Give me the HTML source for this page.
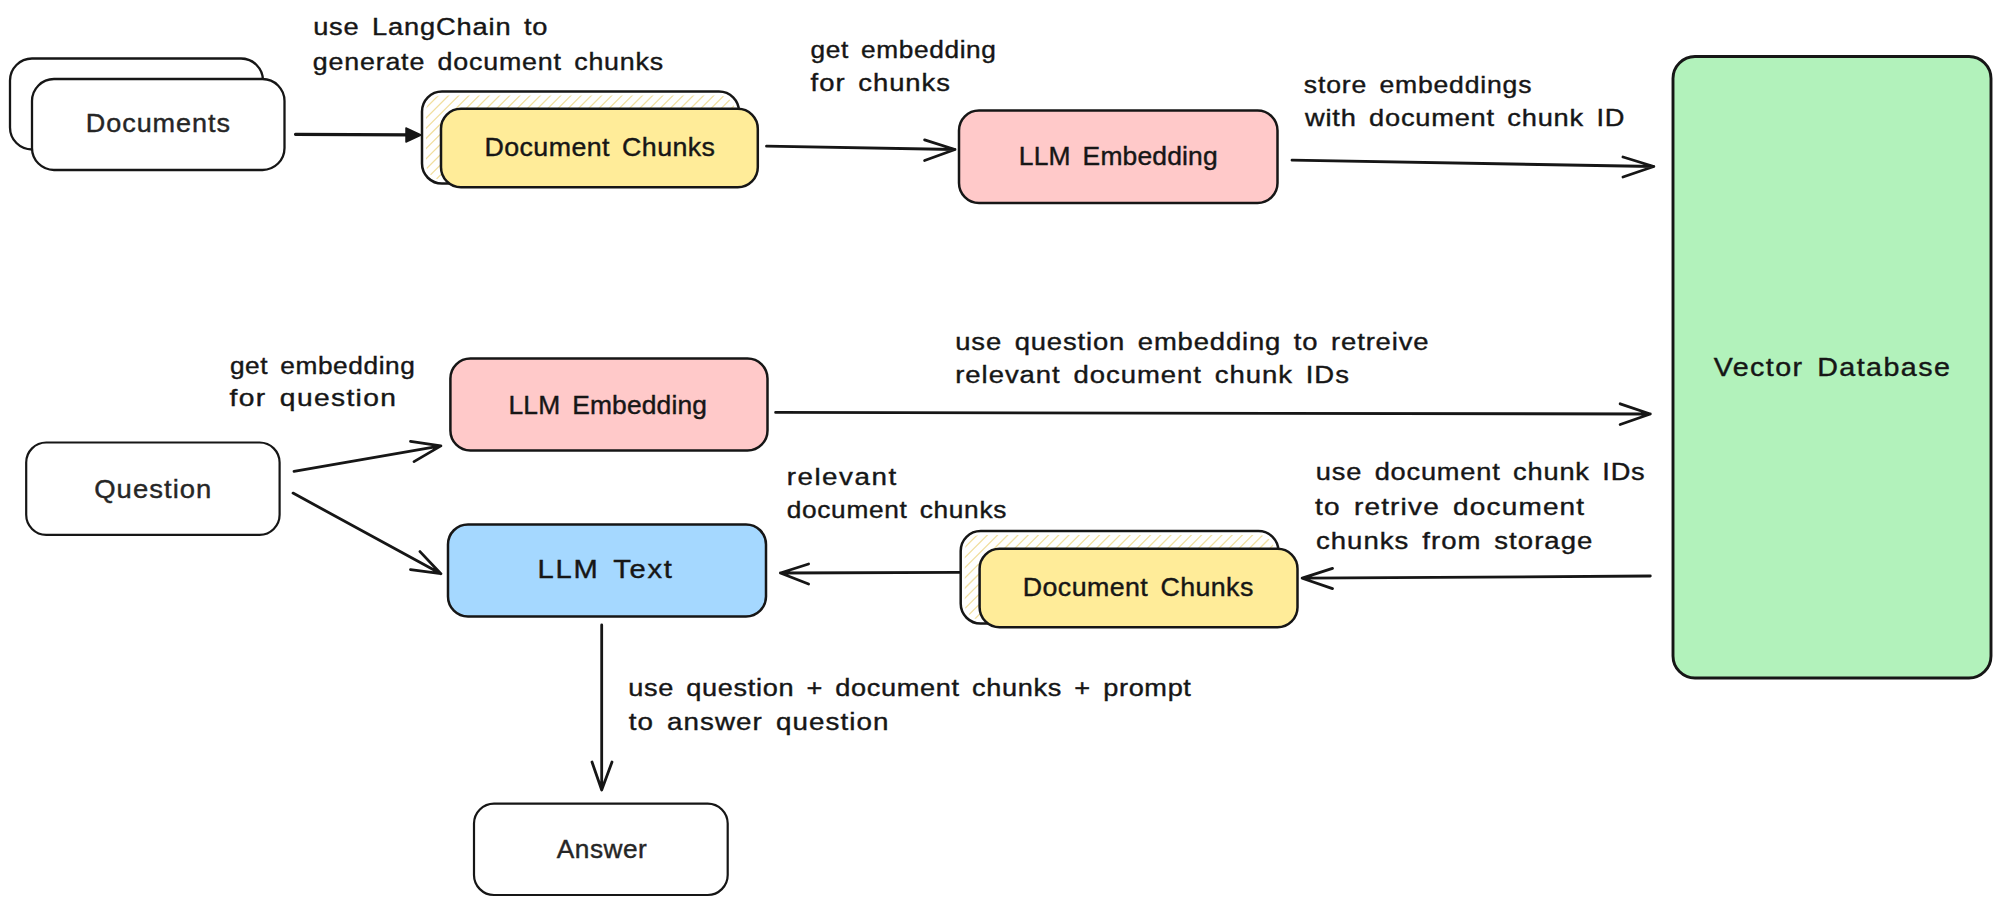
<!DOCTYPE html><html><head><meta charset="utf-8"><style>html,body{margin:0;padding:0;background:#fff;width:2000px;height:905px;overflow:hidden}svg{display:block}text{font-family:"Liberation Sans",sans-serif}</style></head><body>
<svg width="2000" height="905" viewBox="0 0 2000 905">
<rect x="0" y="0" width="2000" height="905" fill="#ffffff"/>
<rect x="10.0" y="58.5" width="253.0" height="91.0" rx="22" ry="22" fill="#ffffff" stroke="#161616" stroke-width="2.3" />
<rect x="32.0" y="79.0" width="252.5" height="91.0" rx="22" ry="22" fill="#ffffff" stroke="#161616" stroke-width="2.3" />
<text transform="translate(85.78 132.00) scale(1.0597 1)" x="0" y="0" font-size="25.5" letter-spacing="0.887" word-spacing="4.10" fill="#262626" stroke="#262626" stroke-width="0.4">Documents</text>
<path d="M295.5 134.3 L410.0 134.8" stroke="#161616" stroke-width="3.2" fill="none" stroke-linecap="round"/>
<path d="M406 128 L421 135 L406 142 Z" fill="#161616" stroke="#161616" stroke-width="1.5" stroke-linejoin="round"/>
<text transform="translate(313.13 35.20) scale(1.1115 1)" x="0" y="0" font-size="24.5" letter-spacing="0.757" word-spacing="3.75" fill="#161616" stroke="#161616" stroke-width="0.4">use LangChain to</text>
<text transform="translate(312.77 70.30) scale(1.0938 1)" x="0" y="0" font-size="24.5" letter-spacing="0.756" word-spacing="3.81" fill="#161616" stroke="#161616" stroke-width="0.4">generate document chunks</text>
<rect x="422.0" y="91.5" width="317.0" height="92.1" rx="20" ry="20" fill="#ffffff" stroke="#161616" stroke-width="2.5" />
<clipPath id="h1"><rect x="426" y="95.5" width="309" height="84.1" rx="16" ry="16"/></clipPath>
<path d="M329.9 183.6 L422.0 91.5 M340.1 183.6 L432.2 91.5 M350.3 183.6 L442.4 91.5 M360.5 183.6 L452.6 91.5 M370.7 183.6 L462.8 91.5 M380.9 183.6 L473.0 91.5 M391.1 183.6 L483.2 91.5 M401.3 183.6 L493.4 91.5 M411.5 183.6 L503.6 91.5 M421.7 183.6 L513.8 91.5 M431.9 183.6 L524.0 91.5 M442.1 183.6 L534.2 91.5 M452.3 183.6 L544.4 91.5 M462.5 183.6 L554.6 91.5 M472.7 183.6 L564.8 91.5 M482.9 183.6 L575.0 91.5 M493.1 183.6 L585.2 91.5 M503.3 183.6 L595.4 91.5 M513.5 183.6 L605.6 91.5 M523.7 183.6 L615.8 91.5 M533.9 183.6 L626.0 91.5 M544.1 183.6 L636.2 91.5 M554.3 183.6 L646.4 91.5 M564.5 183.6 L656.6 91.5 M574.7 183.6 L666.8 91.5 M584.9 183.6 L677.0 91.5 M595.1 183.6 L687.2 91.5 M605.3 183.6 L697.4 91.5 M615.5 183.6 L707.6 91.5 M625.7 183.6 L717.8 91.5 M635.9 183.6 L728.0 91.5 M646.1 183.6 L738.2 91.5 M656.3 183.6 L748.4 91.5 M666.5 183.6 L758.6 91.5 M676.7 183.6 L768.8 91.5 M686.9 183.6 L779.0 91.5 M697.1 183.6 L789.2 91.5 M707.3 183.6 L799.4 91.5 M717.5 183.6 L809.6 91.5 M727.7 183.6 L819.8 91.5 M737.9 183.6 L830.0 91.5" stroke="#f1dfa0" stroke-width="1.3" fill="none" clip-path="url(#h1)"/>
<rect x="441.0" y="108.7" width="316.8" height="78.6" rx="20" ry="20" fill="#ffec99" stroke="#161616" stroke-width="2.5" />
<text transform="translate(484.50 155.90) scale(1.0502 1)" x="0" y="0" font-size="25.5" letter-spacing="0.410" word-spacing="4.13" fill="#161616" stroke="#161616" stroke-width="0.4">Document Chunks</text>
<path d="M766.5 146.2 L955.0 149.5 M924.6 139.9 L955.0 149.5 L924.6 160.5" stroke="#161616" stroke-width="2.8" fill="none" stroke-linecap="round" stroke-linejoin="round"/>
<text transform="translate(810.60 57.50) scale(1.0721 1)" x="0" y="0" font-size="24.5" letter-spacing="0.586" word-spacing="3.89" fill="#161616" stroke="#161616" stroke-width="0.4">get embedding</text>
<text transform="translate(810.61 91.25) scale(1.1190 1)" x="0" y="0" font-size="24.5" letter-spacing="0.868" word-spacing="3.73" fill="#161616" stroke="#161616" stroke-width="0.4">for chunks</text>
<rect x="959.0" y="110.5" width="318.5" height="92.5" rx="20" ry="20" fill="#ffc9c9" stroke="#161616" stroke-width="2.5" />
<text transform="translate(1018.83 164.60) scale(1.0358 1)" x="0" y="0" font-size="25.5" letter-spacing="0.175" word-spacing="4.19" fill="#161616" stroke="#161616" stroke-width="0.4">LLM Embedding</text>
<text transform="translate(1303.86 93.00) scale(1.0844 1)" x="0" y="0" font-size="24.5" letter-spacing="0.756" word-spacing="3.85" fill="#161616" stroke="#161616" stroke-width="0.4">store embeddings</text>
<text transform="translate(1305.04 125.60) scale(1.1114 1)" x="0" y="0" font-size="24.5" letter-spacing="0.702" word-spacing="3.75" fill="#161616" stroke="#161616" stroke-width="0.4">with document chunk ID</text>
<path d="M1292.0 160.2 L1653.8 166.5 M1623.0 157.0 L1653.8 166.5 L1623.0 177.0" stroke="#161616" stroke-width="2.8" fill="none" stroke-linecap="round" stroke-linejoin="round"/>
<rect x="1673.0" y="56.5" width="318.0" height="621.5" rx="22" ry="22" fill="#b2f2bb" stroke="#161616" stroke-width="2.9" />
<text transform="translate(1713.77 376.40) scale(1.1235 1)" x="0" y="0" font-size="25.5" letter-spacing="1.273" word-spacing="3.86" fill="#161616" stroke="#161616" stroke-width="0.4">Vector Database</text>
<text transform="translate(229.90 373.60) scale(1.0712 1)" x="0" y="0" font-size="24.5" letter-spacing="0.565" word-spacing="3.89" fill="#161616" stroke="#161616" stroke-width="0.4">get embedding</text>
<text transform="translate(229.60 405.60) scale(1.1515 1)" x="0" y="0" font-size="24.5" letter-spacing="1.165" word-spacing="3.62" fill="#161616" stroke="#161616" stroke-width="0.4">for question</text>
<rect x="450.4" y="358.6" width="317.1" height="91.8" rx="20" ry="20" fill="#ffc9c9" stroke="#161616" stroke-width="2.5" />
<text transform="translate(508.53 413.50) scale(1.0350 1)" x="0" y="0" font-size="25.5" letter-spacing="0.161" word-spacing="4.19" fill="#161616" stroke="#161616" stroke-width="0.4">LLM Embedding</text>
<path d="M775.6 412.4 L1650.3 414.0 M1620.2 403.8 L1650.3 414.0 L1620.2 424.5" stroke="#161616" stroke-width="2.8" fill="none" stroke-linecap="round" stroke-linejoin="round"/>
<text transform="translate(955.22 350.00) scale(1.1190 1)" x="0" y="0" font-size="24.5" letter-spacing="0.773" word-spacing="3.73" fill="#161616" stroke="#161616" stroke-width="0.4">use question embedding to retreive</text>
<text transform="translate(955.18 382.50) scale(1.1210 1)" x="0" y="0" font-size="24.5" letter-spacing="0.878" word-spacing="3.72" fill="#161616" stroke="#161616" stroke-width="0.4">relevant document chunk IDs</text>
<rect x="26.2" y="442.5" width="253.4" height="92.3" rx="20" ry="20" fill="#ffffff" stroke="#161616" stroke-width="2.2" />
<text transform="translate(94.20 497.60) scale(1.0761 1)" x="0" y="0" font-size="25.5" letter-spacing="0.984" word-spacing="4.03" fill="#262626" stroke="#262626" stroke-width="0.4">Question</text>
<path d="M294.0 471.3 L440.9 445.9 M410.5 441.4 L440.9 445.9 L414.0 461.6" stroke="#161616" stroke-width="2.8" fill="none" stroke-linecap="round" stroke-linejoin="round"/>
<path d="M293.0 493.1 L440.9 573.7 M420.0 551.6 L440.9 573.7 L410.5 569.6" stroke="#161616" stroke-width="2.8" fill="none" stroke-linecap="round" stroke-linejoin="round"/>
<rect x="448.0" y="524.4" width="318.0" height="92.1" rx="20" ry="20" fill="#a5d8ff" stroke="#161616" stroke-width="2.5" />
<text transform="translate(537.41 577.80) scale(1.1423 1)" x="0" y="0" font-size="25.5" letter-spacing="1.575" word-spacing="3.80" fill="#161616" stroke="#161616" stroke-width="0.4">LLM Text</text>
<path d="M959.5 572.4 L780.4 573.0 M808.6 564.0 L780.4 573.0 L808.6 584.0" stroke="#161616" stroke-width="2.8" fill="none" stroke-linecap="round" stroke-linejoin="round"/>
<text transform="translate(786.66 485.40) scale(1.1327 1)" x="0" y="0" font-size="24.5" letter-spacing="1.362" word-spacing="3.68" fill="#161616" stroke="#161616" stroke-width="0.4">relevant</text>
<text transform="translate(786.70 518.40) scale(1.0728 1)" x="0" y="0" font-size="24.5" letter-spacing="0.638" word-spacing="3.89" fill="#161616" stroke="#161616" stroke-width="0.4">document chunks</text>
<rect x="960.7" y="531.1" width="317.7" height="92.5" rx="20" ry="20" fill="#ffffff" stroke="#161616" stroke-width="2.5" />
<clipPath id="h2"><rect x="964.7" y="535.1" width="309.70000000000005" height="84.5" rx="16" ry="16"/></clipPath>
<path d="M868.2 623.6 L960.7 531.1 M878.4 623.6 L970.9 531.1 M888.6 623.6 L981.1 531.1 M898.8 623.6 L991.3 531.1 M909.0 623.6 L1001.5 531.1 M919.2 623.6 L1011.7 531.1 M929.4 623.6 L1021.9 531.1 M939.6 623.6 L1032.1 531.1 M949.8 623.6 L1042.3 531.1 M960.0 623.6 L1052.5 531.1 M970.2 623.6 L1062.7 531.1 M980.4 623.6 L1072.9 531.1 M990.6 623.6 L1083.1 531.1 M1000.8 623.6 L1093.3 531.1 M1011.0 623.6 L1103.5 531.1 M1021.2 623.6 L1113.7 531.1 M1031.4 623.6 L1123.9 531.1 M1041.6 623.6 L1134.1 531.1 M1051.8 623.6 L1144.3 531.1 M1062.0 623.6 L1154.5 531.1 M1072.2 623.6 L1164.7 531.1 M1082.4 623.6 L1174.9 531.1 M1092.6 623.6 L1185.1 531.1 M1102.8 623.6 L1195.3 531.1 M1113.0 623.6 L1205.5 531.1 M1123.2 623.6 L1215.7 531.1 M1133.4 623.6 L1225.9 531.1 M1143.6 623.6 L1236.1 531.1 M1153.8 623.6 L1246.3 531.1 M1164.0 623.6 L1256.5 531.1 M1174.2 623.6 L1266.7 531.1 M1184.4 623.6 L1276.9 531.1 M1194.6 623.6 L1287.1 531.1 M1204.8 623.6 L1297.3 531.1 M1215.0 623.6 L1307.5 531.1 M1225.2 623.6 L1317.7 531.1 M1235.4 623.6 L1327.9 531.1 M1245.6 623.6 L1338.1 531.1 M1255.8 623.6 L1348.3 531.1 M1266.0 623.6 L1358.5 531.1 M1276.2 623.6 L1368.7 531.1" stroke="#f1dfa0" stroke-width="1.3" fill="none" clip-path="url(#h2)"/>
<rect x="979.6" y="548.7" width="317.9" height="78.6" rx="20" ry="20" fill="#ffec99" stroke="#161616" stroke-width="2.5" />
<text transform="translate(1022.80 595.90) scale(1.0502 1)" x="0" y="0" font-size="25.5" letter-spacing="0.410" word-spacing="4.13" fill="#161616" stroke="#161616" stroke-width="0.4">Document Chunks</text>
<text transform="translate(1315.83 479.70) scale(1.1112 1)" x="0" y="0" font-size="24.5" letter-spacing="0.728" word-spacing="3.75" fill="#161616" stroke="#161616" stroke-width="0.4">use document chunk IDs</text>
<text transform="translate(1315.08 515.00) scale(1.1423 1)" x="0" y="0" font-size="24.5" letter-spacing="1.031" word-spacing="3.65" fill="#161616" stroke="#161616" stroke-width="0.4">to retrive document</text>
<text transform="translate(1315.93 549.00) scale(1.1239 1)" x="0" y="0" font-size="24.5" letter-spacing="0.927" word-spacing="3.71" fill="#161616" stroke="#161616" stroke-width="0.4">chunks from storage</text>
<path d="M1650.3 576.0 L1302.2 578.2 M1332.5 568.4 L1302.2 578.2 L1332.5 588.6" stroke="#161616" stroke-width="2.8" fill="none" stroke-linecap="round" stroke-linejoin="round"/>
<path d="M601.7 625.0 L601.7 790.0 M592.0 762.0 L601.7 790.0 L612.0 762.0" stroke="#161616" stroke-width="2.8" fill="none" stroke-linecap="round" stroke-linejoin="round"/>
<text transform="translate(628.24 695.80) scale(1.1081 1)" x="0" y="0" font-size="24.5" letter-spacing="0.590" word-spacing="3.76" fill="#161616" stroke="#161616" stroke-width="0.4">use question + document chunks + prompt</text>
<text transform="translate(628.68 729.70) scale(1.1333 1)" x="0" y="0" font-size="24.5" letter-spacing="0.958" word-spacing="3.68" fill="#161616" stroke="#161616" stroke-width="0.4">to answer question</text>
<rect x="474.0" y="803.6" width="253.7" height="91.4" rx="20" ry="20" fill="#ffffff" stroke="#161616" stroke-width="2.2" />
<text transform="translate(556.75 857.90) scale(1.0298 1)" x="0" y="0" font-size="25.5" letter-spacing="0.495" word-spacing="4.21" fill="#262626" stroke="#262626" stroke-width="0.4">Answer</text>
</svg></body></html>
